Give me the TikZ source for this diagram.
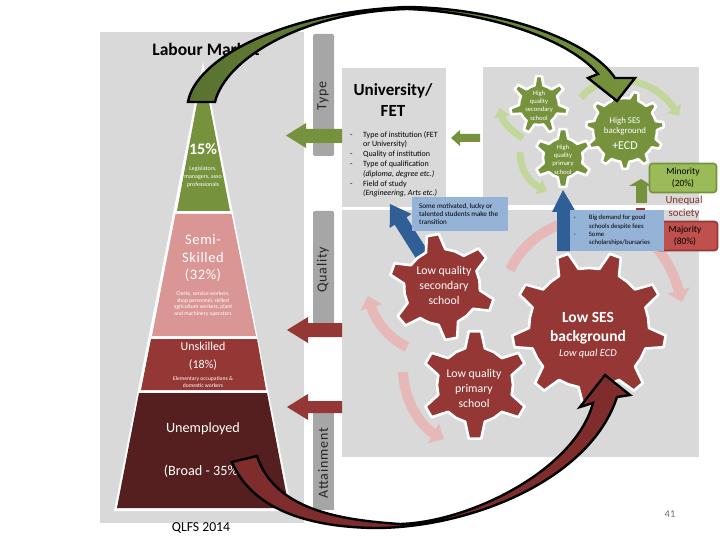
\documentclass[tikz,border=0pt]{standalone}
\usepackage{fontspec}
\setmainfont{Carlito}
\usetikzlibrary{arrows.meta}
\definecolor{panelgray}{HTML}{D9D9D9}
\definecolor{bargray}{HTML}{A6A6A6}
\definecolor{leaf}{HTML}{76923C}
\definecolor{leafdark}{HTML}{5A7230}
\definecolor{rose}{HTML}{D99694}
\definecolor{wine}{HTML}{953735}
\definecolor{winedark}{HTML}{561F1F}
\definecolor{wineshaft}{HTML}{7E2D2C}
\definecolor{palered}{HTML}{E6B9B8}
\definecolor{palegreen}{HTML}{C3D69B}
\definecolor{bluedark}{HTML}{2F5F96}
\definecolor{bluebox}{HTML}{95B3D7}
\definecolor{minfill}{HTML}{9BBB59}
\definecolor{majfill}{HTML}{C0504D}
\newcommand\fsz[2]{\fontsize{#1}{#2}\selectfont}
\newcommand\gearat[7]{% cx cy body tip n rot colour
  \pgfmathsetmacro\gst{360/#5}
  \pgfmathsetmacro\gwa{0.25*\gst}
  \pgfmathsetmacro\gwb{0.11*\gst}
  \pgfmathsetmacro\ghf{0.5*\gst}
  \path[gearstyle,fill=#7,shift={(#1,#2)}] (#6-\ghf:#3)
    \foreach \k [evaluate=\k as \a using #6+(\k-1)*\gst] in {1,...,#5}{
      -- (\a-\gwa:#3) -- (\a-\gwb:#4) -- (\a+\gwb:#4) -- (\a+\gwa:#3) -- (\a+\ghf:#3)
    } -- cycle;
}
\tikzset{
  gearstyle/.style={draw=white,line width=2.6pt,line join=round},
  wtext/.style={text=white,inner sep=0pt,align=center},
  ktext/.style={text=black,inner sep=0pt,align=center},
  barlabel/.style={ktext,rotate=90,text=black!85,font=\fsz{14}{14}\addfontfeatures{LetterSpace=6}},
  paleR/.style={draw=palered,line width=10pt,-{Triangle[width=22pt,length=12pt]}},
  paleG/.style={draw=palegreen,line width=7pt,-{Triangle[width=16pt,length=9pt]}},
  bigarrow/.style={draw=black,line width=2.4pt,line join=miter},
}
\begin{document}
\begin{tikzpicture}[x=1pt,y=-1pt]
\useasboundingbox (0,0) rectangle (720,540);
\fill[white] (0,0) rectangle (720,540);
% panels
\fill[panelgray] (100,32) rectangle (304,523);
\fill[panelgray] (342,68) rectangle (446,207);
\fill[panelgray] (483,67) rectangle (699,205);
\fill[panelgray] (342,210) rectangle (699,457);
% side bars
\fill[bargray,rounded corners=1.5pt] (313,34) rectangle (334,156);
\fill[bargray,rounded corners=1.5pt] (313,211) rectangle (334,324);
\fill[bargray] (313,413) rectangle (334,510);
\node[barlabel] (typeL) at (323,96) {Type};
\node[barlabel] (qualL) at (323,270) {Quality};
\node[barlabel] (attL) at (323,463) {Attainment};
% left arrows
\fill[leaf] (286,135.5) -- (306,123) -- (306,129) -- (342,129) -- (342,143) -- (306,143) -- (306,148) -- cycle;
\fill[wine] (287,330) -- (308,317) -- (308,323) -- (342,323) -- (342,337) -- (308,337) -- (308,343) -- cycle;
\fill[wine] (287,407) -- (308,394) -- (308,401) -- (342,401) -- (342,413) -- (308,413) -- (308,420) -- cycle;
\fill[leaf] (451,138) -- (460,130) -- (460,134) -- (480,134) -- (480,142) -- (460,142) -- (460,146) -- cycle;
% pyramid
\fill[white] (203,62) -- (114,511) -- (292,511) -- cycle;
\fill[leaf] (203,71) -- (230,211) -- (177,211) -- cycle;
\fill[rose] (175.5,214) -- (231.5,214) -- (256,336) -- (152,336) -- cycle;
\fill[wine] (151,339) -- (257,339) -- (266,390) -- (141,390) -- cycle;
\fill[winedark] (139,393) -- (267,393) -- (289,508) -- (117,508) -- cycle;
\node[ktext,font=\fsz{17.5}{18}\bfseries] (labour) at (206,49) {Labour Market};
\node[wtext,font=\fsz{16}{16}\bfseries] (p15) at (203,149) {15\%};
\node[wtext,font=\fsz{6}{7.6}] (p15t) at (203,177) {Legislators,\\managers, asso\\professionals};
\node[wtext,font=\fsz{14.5}{17.5}\addfontfeatures{LetterSpace=4}] (semi) at (203,258.5) {Semi-\\Skilled\\(32\%)};
\node[wtext,font=\fsz{5.6}{6.8}] (semit) at (203,304) {Clerks, service workers,\\shop personnel, skilled\\agriculture workers, plant\\and machinery operators};
\node[wtext,font=\fsz{12}{12}] (unsk) at (203,346) {Unskilled};
\node[wtext,font=\fsz{12}{12}] (unskp) at (203,365) {(18\%)};
\node[wtext,font=\fsz{5.6}{7}] (unskt) at (203,382.5) {Elementary occupations \&\\domestic workers};
\node[wtext,font=\fsz{14.2}{15}] (unemp) at (203,429) {Unemployed};
\node[wtext,font=\fsz{14.2}{15}] (broad) at (203,471) {(Broad - 35\%)};
\node[ktext,font=\fsz{13.7}{14}] (qlfs) at (201,528) {QLFS 2014};
% university text
\node[ktext,font=\fsz{17}{21}\bfseries] (uni) at (393,100.5) {University/\\FET};
\node[ktext,align=left,anchor=north west,font=\fsz{8}{9.8}] (unibul) at (350,131) {-\hspace{10.5pt}Type of institution (FET\\\hspace{13pt}or University)\\-\hspace{10.5pt}Quality of institution\\-\hspace{10.5pt}Type of qualification\\\hspace{13pt}\textit{(diploma, degree etc.)}\\-\hspace{10.5pt}Field of study\\\hspace{13pt}\textit{(Engineering, Arts etc.)}};
% cycle arrows
\draw[paleG] (523,138) .. controls (510,130) and (503,122) .. (500,108);
\draw[paleG] (520,152) .. controls (520,168) and (528,182) .. (547,191);
\draw[paleG] (581,98) .. controls (598,74) and (650,72) .. (679,116);
\draw[paleR] (407,347) .. controls (388,338) and (375,320) .. (368,296);
\draw[paleR] (403,372) .. controls (404,400) and (420,426) .. (444,439);
\draw[paleR] (510,270) .. controls (540,205) and (650,190) .. (682,302);
% blue arrows
\fill[bluedark] (390,204) -- (411.5,214) -- (406.5,217.3) -- (430,254.3) -- (418,261.7) -- (394.7,224.7) -- (389.7,228) -- cycle;
\fill[bluedark] (563,190) -- (576,212) -- (570,212) -- (570,251) -- (557,251) -- (557,212) -- (552,212) -- cycle;
% green up arrow and its foot
\fill[leaf] (641,179) -- (652,186) -- (647,186) -- (647,203) -- (636,203) -- (636,186) -- (629,186) -- cycle;
\fill[wine] (636,208) rectangle (645,211);
% gears
\gearat{539}{105}{20}{29}{7}{-90}{leaf}
\gearat{563}{158}{20}{29}{6}{-90}{leaf}
\gearat{625}{130}{32}{39}{11}{-8}{leaf}
\gearat{442}{287}{38}{53}{6}{-40}{wine}
\gearat{475}{385}{38}{54}{6}{-90}{wine}
\gearat{589}{328}{60}{77}{9}{-30}{wine}
\node[wtext,font=\fsz{6.6}{8.4}] (g1) at (539,105.5) {High\\quality\\secondary\\school};
\node[wtext,font=\fsz{6.6}{8.4}] (g2) at (563,159.5) {High\\quality\\primary\\school};
\node[wtext,font=\fsz{8.8}{10}] (g3) at (625,126) {High SES\\background};
\node[wtext,font=\fsz{12}{12}] (g3b) at (625,146) {+ECD};
\node[wtext,font=\fsz{11.8}{15.2}] (g4) at (444,285.5) {Low quality\\secondary\\school};
\node[wtext,font=\fsz{11.8}{14.6}] (g5) at (474,388.5) {Low quality\\primary\\school};
\node[wtext,font=\fsz{15.5}{19}\bfseries] (g6) at (588,328.5) {Low SES\\background};
\node[wtext,font=\fsz{10.5}{11}\itshape] (g6b) at (588,354) {Low qual ECD};
% right boxes
\draw[draw=leaf,fill=minfill,line width=1.6pt,rounded corners=3pt] (649.5,163.5) rectangle (716.5,192.5);
\node[ktext,font=\fsz{9.5}{12}] (minor) at (683,178) {Minority\\(20\%)};
\node[text=wine!90!black,inner sep=0pt,align=center,font=\fsz{10.8}{12.5}] (uneq) at (684,207) {Unequal\\society};
\draw[draw=wine,fill=majfill,line width=1.6pt,rounded corners=3pt] (656,221.5) rectangle (717.5,250.5);
\fill[bluebox] (412,197) rectangle (508,231);
\fill[bluebox] (570,210) rectangle (664,251);
\node[ktext,align=left,anchor=west,font=\fsz{7.1}{7.8}] (bb1) at (419,214) {Some motivated, lucky or\\talented students make the\\transition};
\node[ktext,align=left,anchor=west,font=\fsz{6.7}{8.4}] (bb2) at (574,230.5) {·\hspace{13pt}Big demand for good\\\hspace{15pt}schools despite fees\\·\hspace{13pt}Some\\\hspace{15pt}scholarships/bursaries};
\node[ktext,font=\fsz{9.5}{12}] (major) at (685,236) {Majority\\(80\%)};
\node[inner sep=0pt,text=black!55,font=\fsz{10.5}{11}] (pg) at (670,514) {41};
% big arrows
\path[bigarrow,left color=leafdark,right color=leaf]
  (188,102) .. controls (195,60) and (280,12) .. (407,7)
  .. controls (500,8) and (590,40) .. (615,78)
  -- (635,78) -- (617,101) -- (588,78) -- (598,74)
  .. controls (570,40) and (490,12) .. (407,9)
  .. controls (300,12) and (225,60) .. (215,102) -- cycle;
\path[bigarrow,fill=wineshaft]
  (232,462) .. controls (250,505) and (300,527) .. (375,528)
  .. controls (470,528) and (590,480) .. (617,397)
  -- (630,395) -- (605,375) -- (580,407) -- (593,403)
  .. controls (575,470) and (470,522) .. (400,524)
  .. controls (340,520) and (275,510) .. (257,456) -- cycle;
\end{tikzpicture}
\end{document}
